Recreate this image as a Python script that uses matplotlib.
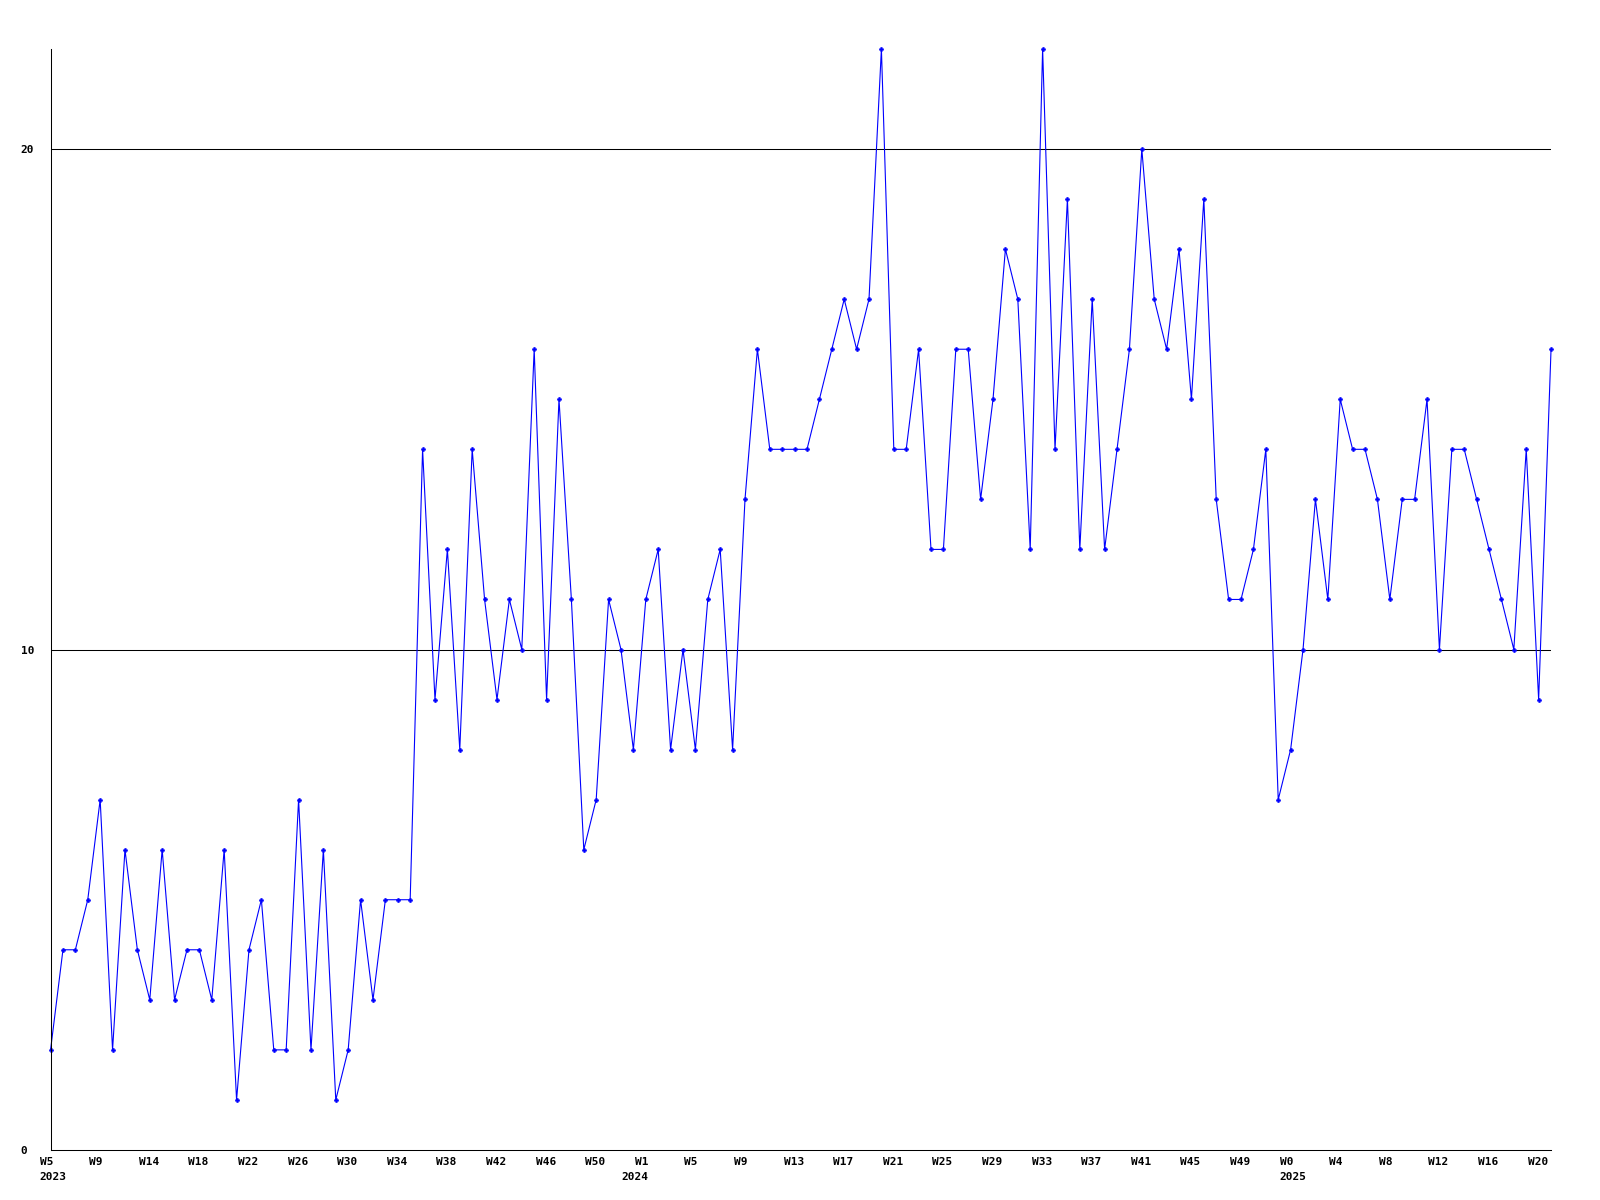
import matplotlib
matplotlib.use('Agg')
import matplotlib.pyplot as plt
from matplotlib.transforms import offset_copy

# weekly counts, W5 2023 .. W21 2025
counts = [2, 4, 4, 5, 7, 2, 6, 4, 3, 6, 3, 4, 4, 3, 6, 1, 4, 5, 2, 2,
          7, 2, 6, 1, 2, 5, 3, 5, 5, 5, 14, 9, 12, 8, 14, 11, 9, 11, 10, 16,
          9, 15, 11, 6, 7, 11, 10, 8, 11, 12, 8, 10, 8, 11, 12, 8, 13, 16, 14, 14,
          14, 14, 15, 16, 17, 16, 17, 22, 14, 14, 16, 12, 12, 16, 16, 13, 15, 18, 17, 12,
          22, 14, 19, 12, 17, 12, 14, 16, 20, 17, 16, 18, 15, 19, 13, 11, 11, 12, 14, 7,
          8, 10, 13, 11, 15, 14, 14, 13, 11, 13, 13, 15, 10, 14, 14, 13, 12, 11, 10, 14,
          9, 16]

week_labels = ['W5', 'W9', 'W14', 'W18', 'W22', 'W26', 'W30', 'W34', 'W38', 'W42',
               'W46', 'W50', 'W1', 'W5', 'W9', 'W13', 'W17', 'W21', 'W25', 'W29',
               'W33', 'W37', 'W41', 'W45', 'W49', 'W0', 'W4', 'W8', 'W12', 'W16', 'W20']
year_labels = {0: '2023', 12: '2024', 25: '2025'}
y_ticks = [0, 10, 20]

font = dict(family='DejaVu Sans Mono', fontsize=8, fontweight='bold')

fig = plt.figure(figsize=(16, 12), dpi=100)
ax = fig.add_axes([0.0316, 0.0417, 0.9378, 0.9175])

x = list(range(len(counts)))
ax.plot(x, counts, color='#0000ff', linewidth=0.8, marker='P', markersize=3,
        markeredgewidth=0.4, clip_on=False)

for v in y_ticks[1:]:
    ax.axhline(v, color='black', linewidth=0.75, zorder=0)

ax.set_xlim(0, len(counts) - 1)
ax.set_ylim(0, 22)

for s in ['top', 'right']:
    ax.spines[s].set_visible(False)
for s in ['left', 'bottom']:
    ax.spines[s].set_linewidth(0.75)

ax.set_yticks(y_ticks)
ax.set_yticklabels([str(v) for v in y_ticks], **font)
ax.tick_params(axis='y', length=0, pad=21.6)
for lbl in ax.get_yticklabels():
    lbl.set_horizontalalignment('left')

ax.set_xticks([])
trans = ax.get_xaxis_transform()
for k, lab in enumerate(week_labels):
    xt = k * 4
    t = offset_copy(trans, fig=fig, x=-11, y=-7, units='dots')
    ax.text(xt, 0, lab, transform=t, ha='left', va='top', **font)
    if k in year_labels:
        t2 = offset_copy(trans, fig=fig, x=-11 if k != 12 else -24, y=-22, units='dots')
        ax.text(xt, 0, year_labels[k], transform=t2, ha='left', va='top', **font)

fig.savefig('out.png', dpi=100)
